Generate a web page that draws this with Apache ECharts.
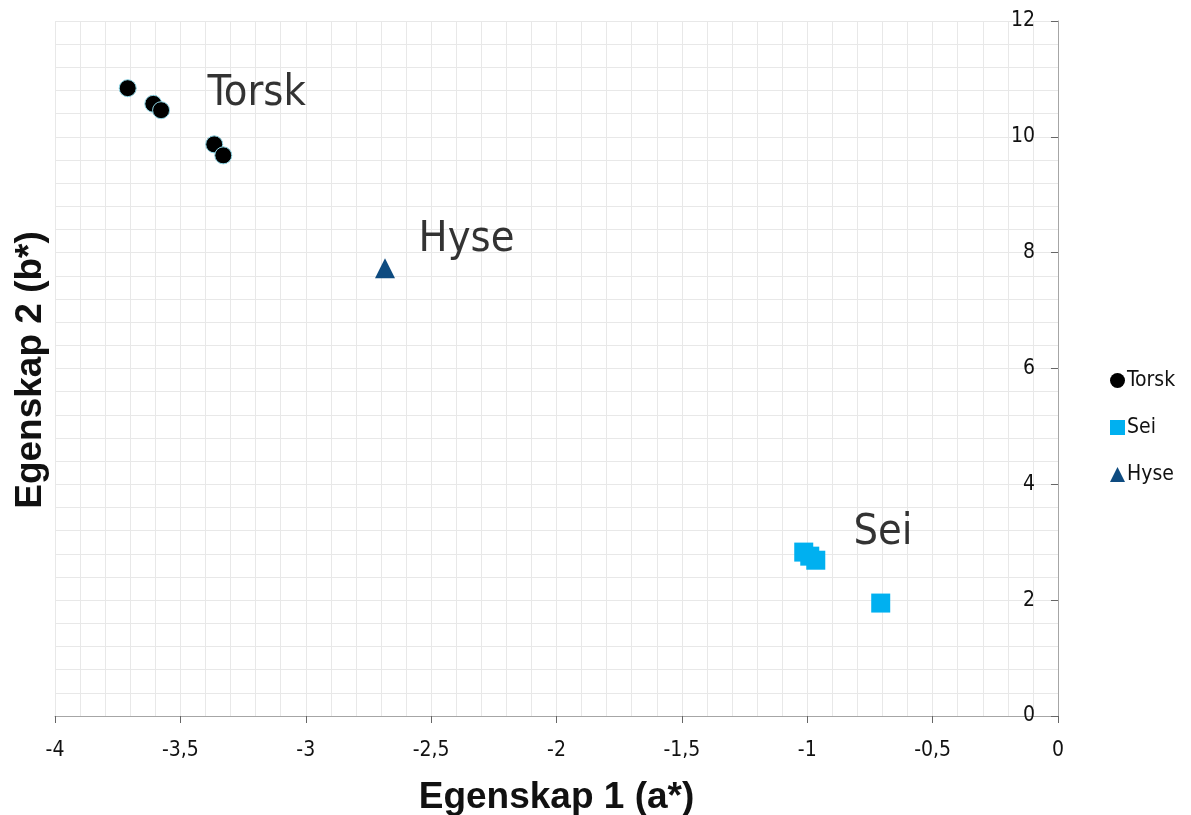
<!DOCTYPE html>
<html>
<head>
<meta charset="utf-8">
<title>Egenskap 1 vs Egenskap 2</title>
<script src="https://cdn.jsdelivr.net/npm/echarts@6/dist/echarts.min.js"></script>
<style>
    html, body { margin: 0; padding: 0; background: #fff; }
    #chart { width: 1191px; height: 815px; }
</style>
</head>
<body>
<div id="chart"></div>
<script>
// Data: [a*, b*] per sample
const torskPoints = [
    [-3.71, 10.84],
    [-3.608, 10.57],
    [-3.577, 10.46],
    [-3.365, 9.87],
    [-3.329, 9.68]
];
const seiPoints = [
    [-1.014, 2.83],
    [-0.990, 2.76],
    [-0.966, 2.69],
    [-0.707, 1.95]
];
const hysePoints = [
    [-2.684, 7.73]
];

// Text annotations inside the plot: [a*, b*, text]
const annotations = [
    [-3.394, 10.74, 'Torsk'],
    [-2.552, 8.22, 'Hyse'],
    [-0.818, 3.16, 'Sei']
];

const seriesNames = ['Torsk', 'Sei', 'Hyse'];

const xTitle = 'Egenskap 1 (a*)';
const yTitle = 'Egenskap 2 (b*)';

const LABEL_FONT = '"Liberation Sans Narrow", "DejaVu Sans Condensed", sans-serif';
const TITLE_FONT = '"Liberation Sans", Arial, sans-serif';
const GRID_COLOR = '#e8e8e8';
const AXIS_COLOR = '#a6a6a6';

// Utility: decimal comma
function fmtComma(v) {
    return String(Math.round(v * 10) / 10).replace('.', ',');
}

const chart = echarts.init(document.getElementById('chart'), null, { renderer: 'canvas' });

chart.setOption({
    animation: false,
    backgroundColor: '#ffffff',
    grid: { left: 55, right: 133, top: 21, bottom: 99, containLabel: false, outerBoundsMode: 'none' },
    // Y axis title sits at the far left, away from the axis line
    graphic: [{
        type: 'text',
        x: 31,
        y: 370,
        rotation: Math.PI / 2,
        style: {
            text: yTitle,
            font: 'bold 37px ' + TITLE_FONT,
            fill: '#111',
            align: 'center',
            verticalAlign: 'middle'
        }
    }],
    legend: {
        orient: 'vertical',
        left: 1105,
        top: 365,
        data: [
            { name: seriesNames[0], icon: 'circle', itemStyle: { borderWidth: 0 } },
            { name: seriesNames[1], icon: 'rect' },
            { name: seriesNames[2], icon: 'triangle' }
        ],
        itemWidth: 15,
        itemHeight: 15,
        itemGap: 26,
        textStyle: { fontFamily: LABEL_FONT, fontSize: 21, color: '#111', padding: [0, 0, 0, -3] }
    },
    xAxis: {
        type: 'value',
        min: -4,
        max: 0,
        interval: 0.5,
        name: xTitle,
        nameLocation: 'middle',
        nameGap: 63,
        nameTextStyle: { fontFamily: TITLE_FONT, fontWeight: 'bold', fontSize: 37, color: '#111' },
        axisLine: { onZero: false, lineStyle: { color: AXIS_COLOR, width: 1 } },
        axisTick: { show: true, length: 7, lineStyle: { color: '#666' } },
        axisLabel: {
            margin: 24,
            fontFamily: LABEL_FONT,
            fontSize: 21,
            color: '#111',
            formatter: fmtComma
        },
        splitLine: { show: true, lineStyle: { color: GRID_COLOR } },
        minorTick: { show: false, splitNumber: 5 },
        minorSplitLine: { show: true, lineStyle: { color: GRID_COLOR } }
    },
    yAxis: {
        type: 'value',
        position: 'right',
        min: 0,
        max: 12,
        interval: 2,
        axisLine: { show: true, onZero: false, lineStyle: { color: AXIS_COLOR, width: 1 } },
        axisTick: { show: true, inside: true, length: 7, lineStyle: { color: '#666' } },
        axisLabel: {
            inside: true,
            margin: 23,
            fontFamily: LABEL_FONT,
            fontSize: 21,
            color: '#111'
        },
        splitLine: { show: true, lineStyle: { color: GRID_COLOR } },
        minorTick: { show: false, splitNumber: 5 },
        minorSplitLine: { show: true, lineStyle: { color: GRID_COLOR } }
    },
    series: [
        {
            name: seriesNames[0],
            type: 'scatter',
            symbol: 'circle',
            symbolSize: 17,
            itemStyle: { color: '#000000', borderColor: '#8fd6e6', borderWidth: 1, opacity: 1 },
            data: torskPoints,
            z: 3
        },
        {
            name: seriesNames[1],
            type: 'scatter',
            symbol: 'rect',
            symbolSize: 19,
            itemStyle: { color: '#00b0f0', opacity: 1 },
            data: seiPoints,
            z: 3
        },
        {
            name: seriesNames[2],
            type: 'scatter',
            symbol: 'triangle',
            symbolSize: 20,
            itemStyle: { color: '#0e4b80', opacity: 1 },
            data: hysePoints,
            z: 3
        },
        {
            // Annotation texts (invisible anchor symbol)
            name: 'annotations',
            type: 'scatter',
            symbol: 'circle',
            symbolSize: 1,
            silent: true,
            itemStyle: { color: 'rgba(0,0,0,0)' },
            data: annotations.map(a => ({ value: [a[0], a[1]], name: a[2] })),
            label: {
                show: true,
                position: 'right',
                distance: 0,
                formatter: p => p.name,
                fontFamily: LABEL_FONT,
                fontSize: 43,
                color: '#000'
            },
            z: 4
        }
    ]
});
</script>
</body>
</html>
